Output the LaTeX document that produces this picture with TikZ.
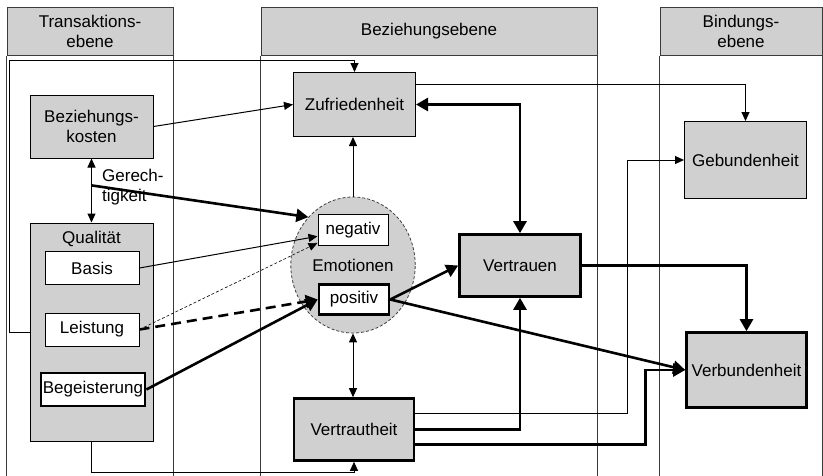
\documentclass[tikz,border=0pt]{standalone}
\usepackage{fontspec}
\setmainfont{Liberation Sans}
\usepackage{tikz}
\usetikzlibrary{arrows.meta,shapes.geometric}
\definecolor{boxgray}{HTML}{D0D0D0}
\definecolor{linegray}{HTML}{3A3A3A}

\begin{document}
\begin{tikzpicture}[
        x=1pt, y=-1pt,
        font=\fontsize{17}{20}\selectfont,
        header/.style={rectangle, draw=linegray, line width=1pt, fill=boxgray, align=center, minimum height=48pt, inner sep=0pt},
        block/.style={rectangle, draw=black, line width=1pt, fill=boxgray, align=center, inner sep=2pt},
        strongblock/.style={block, line width=2.6pt},
        item/.style={rectangle, draw=black, line width=1pt, fill=white, align=center, inner sep=2pt},
        colline/.style={draw=linegray, line width=0.8pt},
        arrow/.style={-{Triangle[length=9pt,width=8pt]}, line width=1pt},
        dblarrow/.style={{Triangle[length=9pt,width=8pt]}-{Triangle[length=9pt,width=8pt]}, line width=1pt},
        thickarrow/.style={-{Triangle[length=12pt,width=13pt]}, line width=2.6pt},
        thickdbl/.style={{Triangle[length=12pt,width=13pt]}-{Triangle[length=12pt,width=13pt]}, line width=2.6pt}
    ]
        \useasboundingbox (0,0) rectangle (823,475);

        \node[header, minimum width=166pt] (ht) at (90,31) {Transaktions-\\ebene};
        \node[header, minimum width=336pt] (hb) at (429,31) {Beziehungsebene};
        \node[header, minimum width=162pt] (hn) at (741,31) {Bindungs-\\ebene};
        \foreach \h in {ht, hb, hn} {
            \draw[colline] (\h.south west) -- ++(0,420);
            \draw[colline] (\h.south east) -- ++(0,420);
        }

        \node[block, minimum width=123pt, minimum height=63pt] (kosten) at (91.5,126.5) {Beziehungs-\\kosten};
        \node[block, minimum width=123pt, minimum height=218pt, label={[anchor=north, yshift=-5pt]north:Qualität}] (quali) at (91.5,332) {};
        \node[item, minimum width=94pt, minimum height=33pt] (basis) at (92,268) {Basis};
        \node[item, minimum width=94pt, minimum height=33pt] (leist) at (92,329.5) {Leistung};
        \node[item, line width=2.6pt, minimum width=102pt, minimum height=33pt] (begeist) at (93,389.5) {Begeisterung};
        \node[anchor=west, align=left, inner sep=0pt] (gerechttext) at (102,187) {Gerech-\\tigkeit};

        \node[block, minimum width=122pt, minimum height=64pt] (zufr) at (354.5,104.5) {Zufriedenheit};
        \node[ellipse, draw=black!75, line width=0.8pt, dash pattern=on 3pt off 2pt, fill=boxgray, minimum width=124pt, minimum height=136pt] (emo) at (353,265) {Emotionen};
        \node[item, minimum width=70pt, minimum height=31pt] (neg) at (353,230) {negativ};
        \node[item, line width=2.6pt, minimum width=70pt, minimum height=30pt] (pos) at (354,299.5) {positiv};
        \node[strongblock, minimum width=120pt, minimum height=62pt] (vtheit) at (354,429.5) {Vertrautheit};
        \node[strongblock, minimum width=121pt, minimum height=62pt] (vtrauen) at (520,265.5) {Vertrauen};

        \node[block, minimum width=122pt, minimum height=77pt] (gebund) at (745.5,160) {Gebundenheit};
        \node[strongblock, minimum width=120pt, minimum height=75pt] (verbund) at (746.5,370) {Verbundenheit};

        \path (kosten.south) -- (quali.north) coordinate[pos=0.42] (gerecht);
        \draw[dblarrow] (kosten.south) -- (quali.north);
        \draw[arrow] (kosten.east) -- (zufr.west);
        \draw[thickarrow] (gerecht) -- (emo.133);
        \draw[arrow] (basis.east) -- (neg);
        \draw[arrow, line width=0.6pt, dash pattern=on 3pt off 2pt] (leist.east) -- (neg.200);
        \draw[thickarrow, dash pattern=on 10pt off 6pt] (leist.east) -- (pos.west);
        \draw[thickarrow] (begeist.east) -- (pos.west);

        \draw[arrow] (emo.north) -- (emo.north |- zufr.south);
        \draw[dblarrow] (emo.south) -- (emo.south |- vtheit.north);
        \draw[thickdbl] (zufr.east) -| (vtrauen.north);
        \draw[thickarrow] (pos.east) -- (vtrauen.west);
        \draw[thickarrow] (pos.east) -- (verbund.west);
        \draw[thickarrow] (vtrauen.east) -| (verbund.north);
        \draw[arrow] ([yshift=20pt]zufr.east) -| (gebund.north);
        \draw[arrow] ([yshift=16pt]vtheit.east) -| ([xshift=-57pt]gebund.west) -- (gebund.west);
        \draw[thickarrow] (vtheit.east) -| (vtrauen.south);
        \draw[thickarrow] ([yshift=-15pt]vtheit.east) -| ([xshift=-40pt]verbund.west) -- (verbund.west);
        \draw[arrow] (quali.west) -- ++(-20,0) |- ([yshift=12pt]zufr.north) -- (zufr.north);
        \draw[arrow] (quali.south) -- ++(0,31) -| (vtheit.south);
    \end{tikzpicture}
\end{document}
